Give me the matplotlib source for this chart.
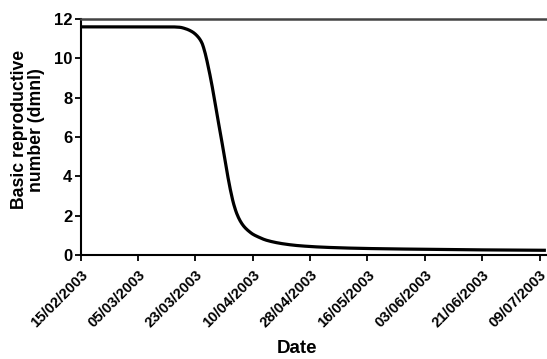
import matplotlib
matplotlib.use("Agg")
import matplotlib.pyplot as plt
import numpy as np
import pandas as pd

start_date = "2003-02-15"
day_offsets = [0, 10, 20, 28, 31, 33, 35, 36.5, 38, 39, 40, 41, 42, 43, 44, 45, 46, 47,
               48, 49, 50, 51, 52, 53, 54, 55.7, 58.3, 63.5, 68.7, 77, 90, 108, 126, 146]
r0_values = [11.6, 11.6, 11.6, 11.6, 11.58, 11.5, 11.35, 11.15, 10.8, 10.3, 9.6, 8.8,
             7.9, 6.95, 6.05, 5.1, 4.15, 3.3, 2.6, 2.1, 1.75, 1.5, 1.32, 1.18, 1.06,
             0.92, 0.75, 0.57, 0.47, 0.39, 0.33, 0.29, 0.26, 0.24]
tick_labels = ["15/02/2003", "05/03/2003", "23/03/2003", "10/04/2003", "28/04/2003",
               "16/05/2003", "03/06/2003", "21/06/2003", "09/07/2003"]
y_ticks = [0, 2, 4, 6, 8, 10, 12]

plt.rcParams['font.family'] = ['Liberation Sans', 'DejaVu Sans']
plt.rcParams['font.weight'] = 'bold'

fig = plt.figure(figsize=(5.47, 3.59), dpi=100)
ax = fig.add_axes([0.1475, 0.2897, 0.8505, 0.6574])

t0 = pd.Timestamp(start_date)
xs = np.array(day_offsets, dtype=float)
ys = np.array(r0_values, dtype=float)

def pchip(x, y, xn):
    h = np.diff(x); d = np.diff(y) / h
    m = np.zeros_like(y)
    for k in range(1, len(x) - 1):
        if d[k-1] * d[k] <= 0:
            m[k] = 0
        else:
            w1 = 2*h[k] + h[k-1]; w2 = h[k] + 2*h[k-1]
            m[k] = (w1 + w2) / (w1/d[k-1] + w2/d[k])
    m[0] = d[0]; m[-1] = d[-1]
    out = np.empty_like(xn)
    idx = np.clip(np.searchsorted(x, xn) - 1, 0, len(x) - 2)
    for i, (xi, k) in enumerate(zip(xn, idx)):
        t = (xi - x[k]) / h[k]
        h00 = 2*t**3 - 3*t**2 + 1; h10 = t**3 - 2*t**2 + t
        h01 = -2*t**3 + 3*t**2; h11 = t**3 - t**2
        out[i] = h00*y[k] + h10*h[k]*m[k] + h01*y[k+1] + h11*h[k]*m[k+1]
    return out

xf = np.linspace(xs[0], xs[-1], 800)
yf = pchip(xs, ys, xf)
dates_f = [t0 + pd.Timedelta(days=float(d)) for d in xf]
ax.plot(dates_f, yf, color='black', lw=2.3, solid_capstyle='butt')

ax.set_ylim(0, 12)
ax.set_yticks(y_ticks)
ax.set_yticklabels([str(v) for v in y_ticks], fontsize=12, fontweight='bold')
ax.set_xlim(t0, t0 + pd.Timedelta(days=146))
tick_dates = [pd.to_datetime(s, format="%d/%m/%Y") for s in tick_labels]
ax.set_xticks(tick_dates)
ax.set_xticklabels(tick_labels, rotation=45, ha='right', rotation_mode='anchor',
                   fontsize=10.7, fontweight='bold')

for s in ['left', 'bottom']:
    ax.spines[s].set_linewidth(1.5)
ax.spines['top'].set_linewidth(1.8)
ax.spines['top'].set_color('#444444')
ax.spines['right'].set_visible(False)
ax.tick_params(axis='both', direction='out', length=4, width=1.3, pad=2)
ax.tick_params(axis='x', pad=5)

ax.set_ylabel("Basic reproductive\nnumber (dmnl)", fontsize=12.7, fontweight='bold',
              linespacing=1.0)
ax.yaxis.set_label_coords(-0.077, 0.53)
ax.set_xlabel("Date", fontsize=13.5, fontweight='bold')
ax.xaxis.set_label_coords(0.465, -0.36)

fig.savefig("out.png", dpi=100)
